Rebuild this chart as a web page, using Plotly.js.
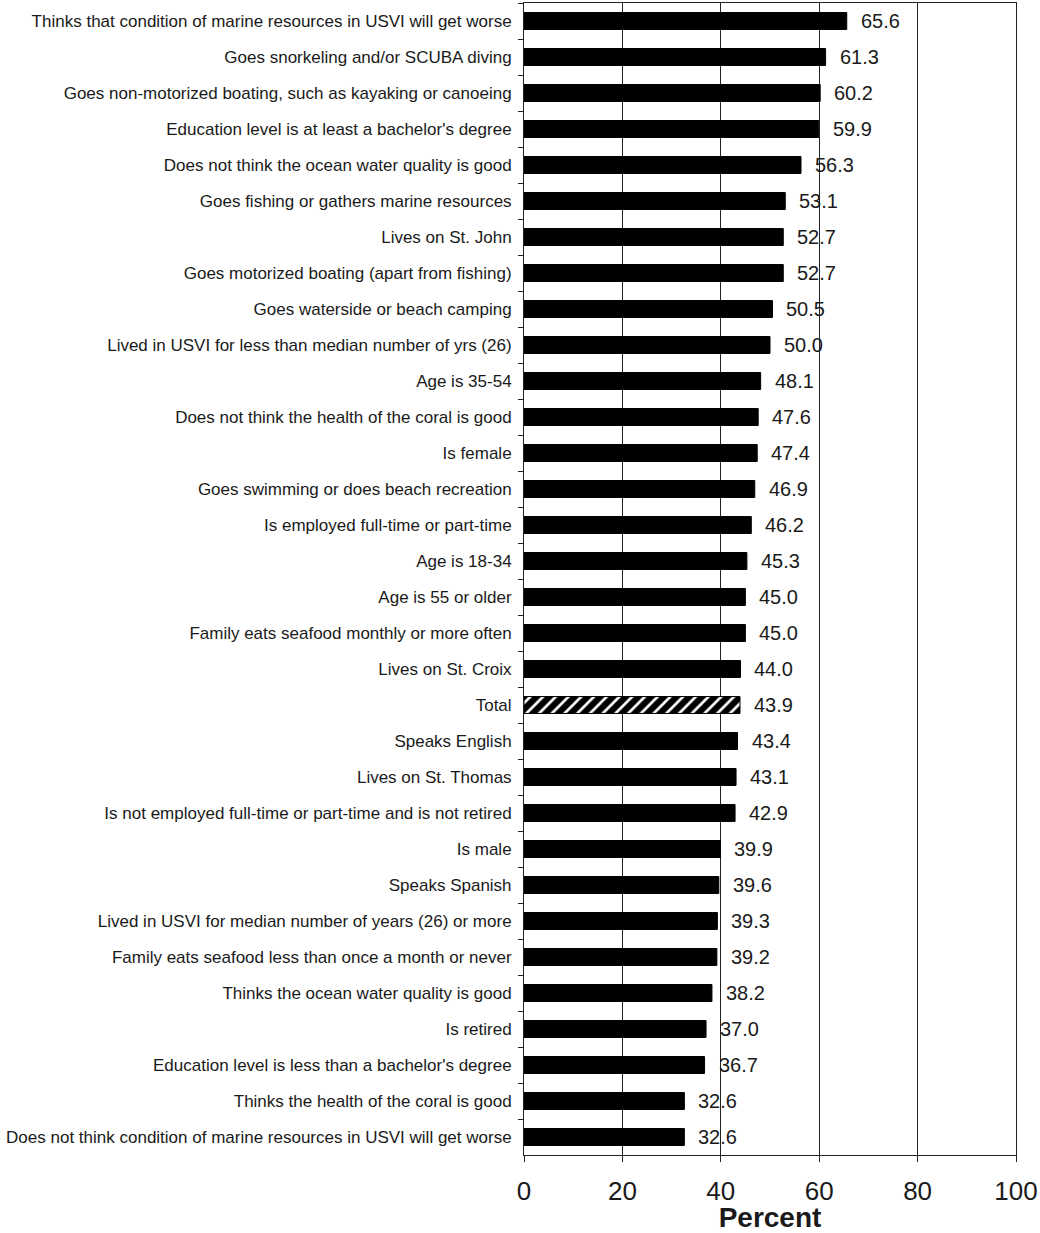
<!DOCTYPE html>
<html>
<head>
<meta charset="utf-8">
<script src="https://cdn.plot.ly/plotly-3.0.1.min.js"></script>
<style>html,body{margin:0;padding:0;background:#fff;}#chart{width:1040px;height:1233px;}</style>
</head>
<body>
<div id="chart"></div>
<script>
const categories = [
  "Thinks that condition of marine resources in USVI will get worse",
  "Goes snorkeling and/or SCUBA diving",
  "Goes non-motorized boating, such as kayaking or canoeing",
  "Education level is at least a bachelor's degree",
  "Does not think the ocean water quality is good",
  "Goes fishing or gathers marine resources",
  "Lives on St. John",
  "Goes motorized boating (apart from fishing)",
  "Goes waterside or beach camping",
  "Lived in USVI for less than median number of yrs (26)",
  "Age is 35-54",
  "Does not think the health of the coral is good",
  "Is female",
  "Goes swimming or does beach recreation",
  "Is employed full-time or part-time",
  "Age is 18-34",
  "Age is 55 or older",
  "Family eats seafood monthly or more often",
  "Lives on St. Croix",
  "Total",
  "Speaks English",
  "Lives on St. Thomas",
  "Is not employed full-time or part-time and is not retired",
  "Is male",
  "Speaks Spanish",
  "Lived in USVI for median number of years (26) or more",
  "Family eats seafood less than once a month or never",
  "Thinks the ocean water quality is good",
  "Is retired",
  "Education level is less than a bachelor's degree",
  "Thinks the health of the coral is good",
  "Does not think condition of marine resources in USVI will get worse"
];
const percents = [65.6, 61.3, 60.2, 59.9, 56.3, 53.1, 52.7, 52.7, 50.5, 50.0,
  48.1, 47.6, 47.4, 46.9, 46.2, 45.3, 45.0, 45.0, 44.0, 43.9,
  43.4, 43.1, 42.9, 39.9, 39.6, 39.3, 39.2, 38.2, 37.0, 36.7, 32.6, 32.6];
const xTicks = [0, 20, 40, 60, 80, 100];
const totalLabel = "Total";

const shapes = categories.map(c => c === totalLabel ? "/" : "");

const trace = {
  type: "bar",
  orientation: "h",
  y: categories,
  x: percents,
  width: 0.47,
  marker: {
    color: "black",
    line: {color: "black", width: 1},
    pattern: {shape: shapes, bgcolor: "black", fgcolor: "white", size: 9, solidity: 0.3}
  },
  hoverinfo: "none"
};

const annotations = categories.map((c, i) => ({
  x: percents[i], y: c, xref: "x", yref: "y",
  text: percents[i].toFixed(1), showarrow: false,
  xanchor: "left", yanchor: "middle", xshift: 12,
  font: {family: "Liberation Sans, Arial, sans-serif", size: 20, color: "#1a1a1a"}
}));

const layout = {
  width: 1040, height: 1233,
  margin: {l: 524, r: 24, t: 3, b: 78},
  paper_bgcolor: "white", plot_bgcolor: "white",
  showlegend: false,
  font: {family: "Liberation Sans, Arial, sans-serif", color: "#1a1a1a"},
  xaxis: {
    range: [0, 100], tickvals: xTicks, ticktext: xTicks.map(String),
    showgrid: true, gridcolor: "#222", gridwidth: 1,
    showline: true, linecolor: "#222", linewidth: 1, mirror: true,
    ticks: "outside", ticklen: 6, tickcolor: "#222",
    tickfont: {size: 26, color: "#1a1a1a"},
    ticklabelstandoff: 7,
    zeroline: false, fixedrange: true,
    title: {text: "<b>Percent</b>", font: {size: 28, color: "#1a1a1a"}, standoff: 0}
  },
  yaxis: {
    type: "category", autorange: "reversed",
    showgrid: false, showline: true, linecolor: "#222", linewidth: 1, mirror: true,
    ticks: "outside", tickson: "boundaries", ticklen: 5, tickcolor: "#222",
    tickfont: {size: 17, color: "#1a1a1a"},
    ticklabelstandoff: 8,
    fixedrange: true
  },
  annotations: annotations
};

Plotly.newPlot("chart", [trace], layout, {displayModeBar: false, staticPlot: true});
</script>
</body>
</html>
